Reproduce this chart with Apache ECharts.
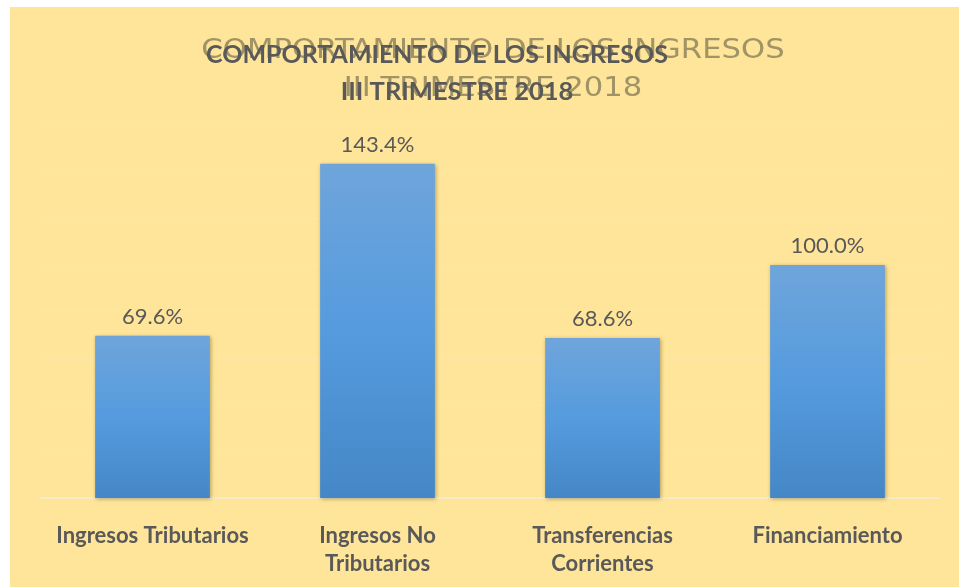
<!DOCTYPE html>
<html>
<head>
<meta charset="utf-8">
<script src="https://cdn.jsdelivr.net/npm/echarts@6/dist/echarts.min.js"></script>
<style>
    html, body { margin: 0; padding: 0; background: #fff; }
    #main { position: absolute; left: 10px; top: 7px; width: 949px; height: 580px; }
</style>
</head>
<body>
<div id="main"></div>
<script>
    //类目
    var categories = ['Ingresos Tributarios', 'Ingresos No\nTributarios', 'Transferencias\nCorrientes', 'Financiamiento'];
    //百分比数据
    var values = [69.6, 143.4, 68.6, 100.0];
    //标题
    var titleLine1 = 'COMPORTAMIENTO DE LOS INGRESOS';
    var titleLine2 = 'III TRIMESTRE 2018';

    var chart = echarts.init(document.getElementById('main'));

    var ghostStyle = function (text) {
        return {
            text: text, fill: 'rgba(120,112,80,0.7)',
            font: '26px "DejaVu Sans"', align: 'center', verticalAlign: 'middle',
            shadowBlur: 3, shadowColor: 'rgba(120,112,80,0.6)'
        };
    };

    var option = {
        backgroundColor: '#FFE599',
        animation: false,
        graphic: [
            //后面那层模糊的标题
            { type: 'text', x: 483, y: 44, scaleX: 1.18, z: 1, style: ghostStyle(titleLine1) },
            { type: 'text', x: 483, y: 82, scaleX: 1.18, z: 1, style: ghostStyle(titleLine2) },
            //前面的标题
            {
                type: 'text', x: 427, y: 48, z: 10,
                style: {
                    text: titleLine1, fill: '#595959',
                    font: 'bold 25px Lato', align: 'center', verticalAlign: 'middle'
                }
            },
            {
                type: 'text', x: 447, y: 85, z: 10,
                style: {
                    text: titleLine2, fill: '#595959',
                    font: 'bold 25.5px Lato', align: 'center', verticalAlign: 'middle'
                }
            }
        ],
        grid: {
            left: 30,
            right: 19,
            top: 118,
            bottom: 89
        },
        xAxis: {
            type: 'category',
            data: categories,
            axisTick: { show: false },
            axisLine: { lineStyle: { color: '#F3EBD3', width: 1.5 } },
            axisLabel: {
                interval: 0,
                margin: 24,
                color: '#595959',
                fontFamily: 'Lato',
                fontWeight: 'bold',
                fontSize: 22,
                lineHeight: 28
            }
        },
        yAxis: {
            type: 'value',
            min: 0,
            max: 160,
            interval: 20,
            axisLabel: { show: false },
            axisLine: { show: false },
            axisTick: { show: false },
            splitLine: { lineStyle: { color: 'rgba(255,255,255,0.1)', width: 1 } }
        },
        series: [
            {
                type: 'bar',
                data: values,
                barWidth: '51%',
                itemStyle: {
                    color: new echarts.graphic.LinearGradient(0, 0, 0, 1, [
                        { offset: 0, color: '#6FA5DB' },
                        { offset: 0.5, color: '#559BDE' },
                        { offset: 1, color: '#4587C6' }
                    ]),
                    shadowBlur: 4,
                    shadowColor: 'rgba(90,70,20,0.45)',
                    shadowOffsetX: 1,
                    shadowOffsetY: 1
                },
                label: {
                    show: true,
                    position: 'top',
                    distance: 8,
                    color: '#595959',
                    fontFamily: 'Lato',
                    fontSize: 22,
                    formatter: function (p) {
                        return p.value.toFixed(1) + '%';
                    }
                }
            }
        ]
    };

    if (option && typeof option === "object") {
        chart.setOption(option, true);
    }
</script>
</body>
</html>
